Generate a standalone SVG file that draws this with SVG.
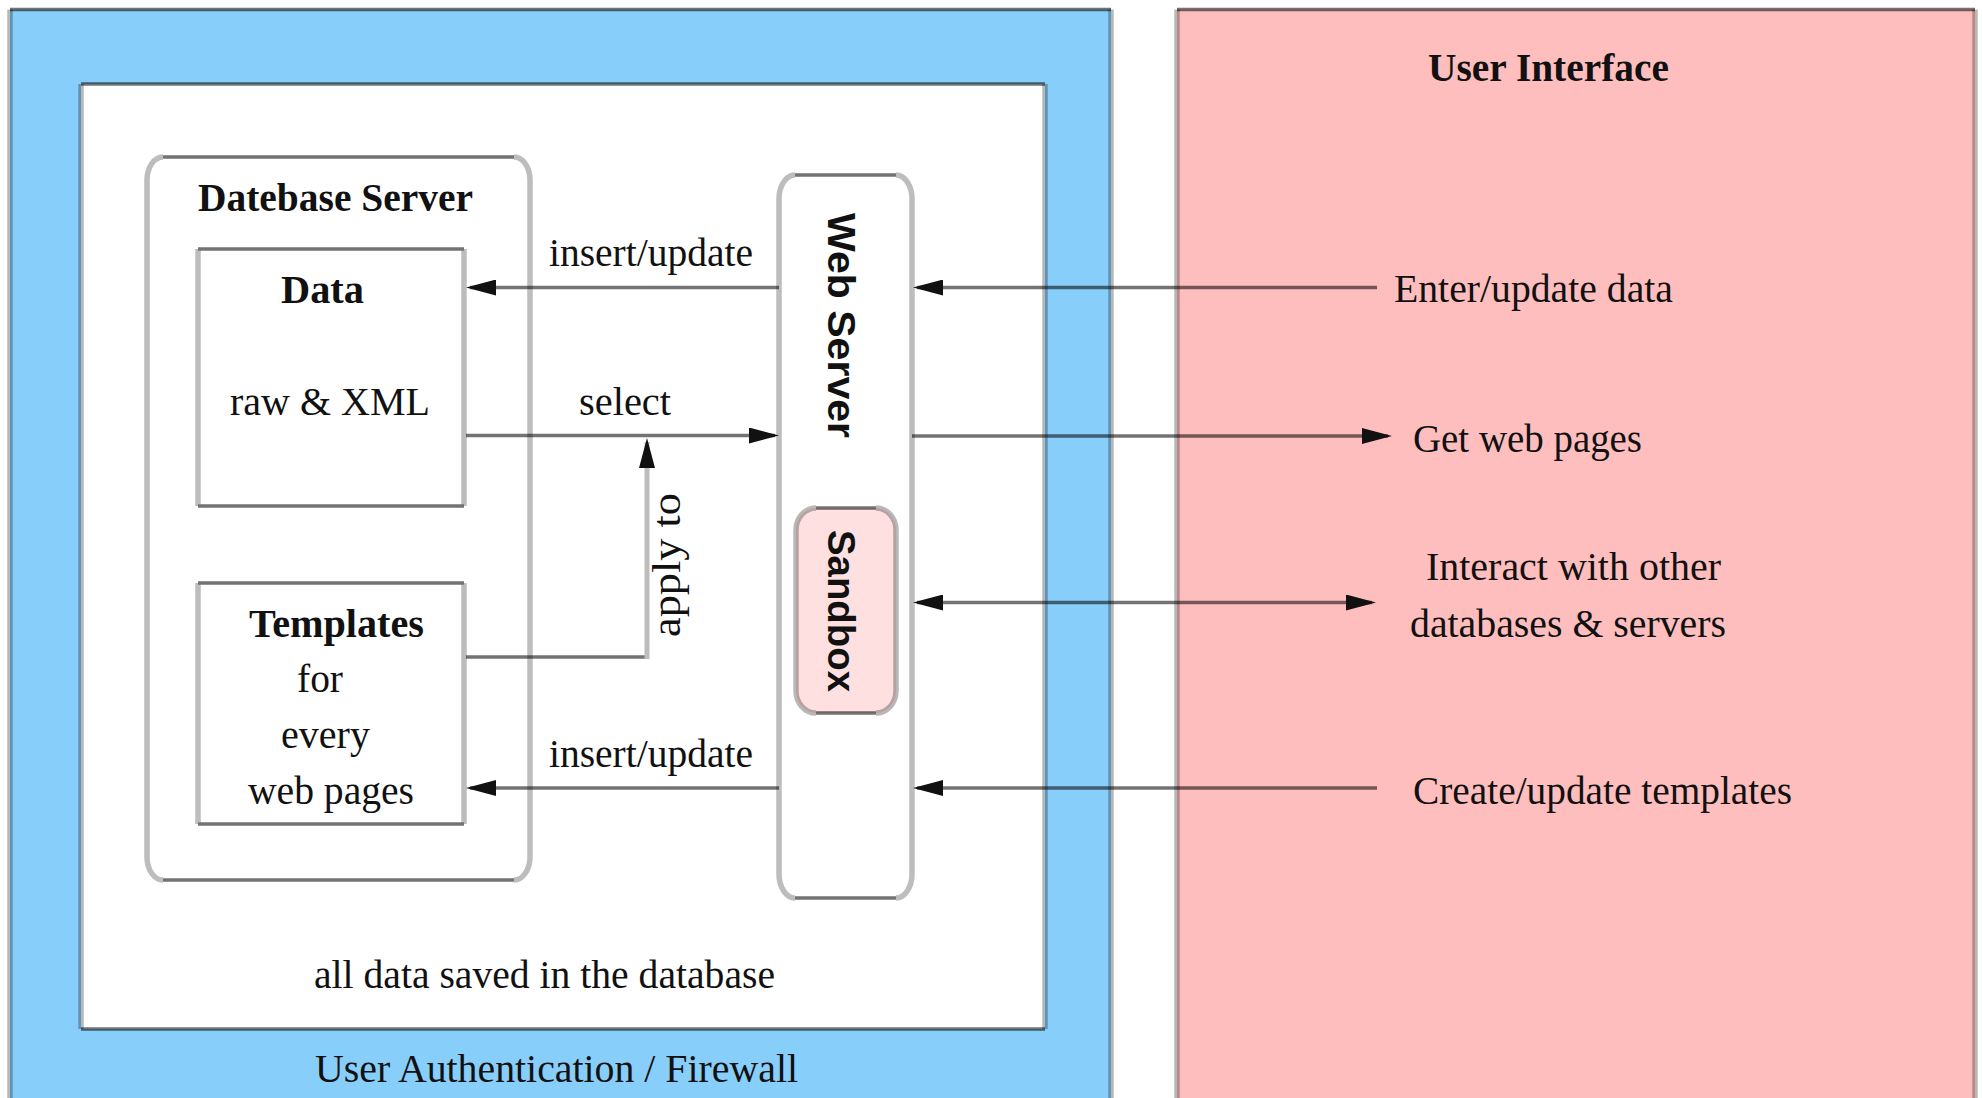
<svg xmlns="http://www.w3.org/2000/svg" width="1982" height="1098" viewBox="0 0 1982 1098">
<style>
  .vt { stroke:#000; stroke-opacity:0.28; stroke-width:5.5; fill:none; }
  .hz { stroke:#000; stroke-opacity:0.55; stroke-width:3.5; fill:none; }
  .nv { stroke:#bdbdbd; stroke-width:5.5; fill:none; }
  .nh { stroke:#737373; stroke-width:3.5; fill:none; }
  .cv { stroke:#bdbdbd; stroke-width:5; fill:none; }
  .ch { stroke:#000; stroke-opacity:0.55; stroke-width:3.5; fill:none; }
  .arr { marker-end:url(#ah); }
  .both { marker-start:url(#ah); marker-end:url(#ah); }
  text { font-family:"Liberation Serif", "Times New Roman", serif; font-size:40px; fill:#111; }
  .b { font-weight:bold; }
  .sans { font-family:"Liberation Sans", Arial, sans-serif; font-weight:bold; font-size:39px; }
</style>
<defs>
  <marker id="ah" viewBox="0 0 30 16" refX="26" refY="8" markerWidth="30" markerHeight="16" markerUnits="userSpaceOnUse" orient="auto-start-reverse">
    <path d="M0,0 L30,8 L0,16 Z" fill="#111"/>
  </marker>
</defs>
<rect width="1982" height="1098" fill="#ffffff"/>

<g id="firewall-zone">
  <rect x="10" y="9.5" width="1101" height="1100" fill="#87cefa"/>
  <path class="vt" d="M10,9.5 V1098 M1111,9.5 V1098"/>
  <path class="hz" d="M10,9.5 H1111"/>
  <text x="315" y="1082" textLength="483" lengthAdjust="spacingAndGlyphs">User Authentication / Firewall</text>
</g>

<g id="server-area">
  <rect x="81" y="84" width="964" height="945" fill="#ffffff"/>
  <path class="vt" d="M81,84 V1029 M1045,84 V1029"/>
  <path class="hz" d="M81,84 H1045 M81,1029 H1045"/>
  <text x="314" y="988" textLength="461" lengthAdjust="spacingAndGlyphs">all data saved in the database</text>
</g>

<g id="user-interface">
  <rect x="1177" y="9.5" width="798" height="1100" fill="#ffbebe"/>
  <path class="vt" d="M1177,9.5 V1098 M1975,9.5 V1098"/>
  <path class="hz" d="M1177,9.5 H1975"/>
  <text class="b" x="1428" y="81" textLength="241" lengthAdjust="spacingAndGlyphs">User Interface</text>
</g>

<g id="database-server">
  <path class="nv" d="M163,157 A16,23 0 0 0 147,180 V857 A16,23 0 0 0 163,880 M514,157 A16,23 0 0 1 530,180 V857 A16,23 0 0 1 514,880"/>
  <path class="nh" d="M163,157 H514 M163,880 H514"/>
  <text class="b" x="198" y="211" textLength="275" lengthAdjust="spacingAndGlyphs">Datebase Server</text>
</g>

<g id="data">
  <path class="nv" d="M198,249 V506 M464,249 V506"/>
  <path class="nh" d="M198,249 H464 M198,506 H464"/>
  <text class="b" x="281" y="303" textLength="83" lengthAdjust="spacingAndGlyphs">Data</text>
  <text x="230" y="415" textLength="200" lengthAdjust="spacingAndGlyphs">raw &amp; XML</text>
</g>

<g id="templates">
  <path class="nv" d="M198,583 V824 M464,583 V824"/>
  <path class="nh" d="M198,583 H464 M198,824 H464"/>
  <text class="b" x="249" y="637" textLength="175" lengthAdjust="spacingAndGlyphs">Templates</text>
  <text x="297" y="692" textLength="46" lengthAdjust="spacingAndGlyphs">for</text>
  <text x="281" y="748" textLength="89" lengthAdjust="spacingAndGlyphs">every</text>
  <text x="248" y="804" textLength="166" lengthAdjust="spacingAndGlyphs">web pages</text>
</g>

<g id="web-server">
  <path class="nv" d="M795,175 A16,24 0 0 0 779,199 V874 A16,24 0 0 0 795,898 M896,175 A16,24 0 0 1 912,199 V874 A16,24 0 0 1 896,898"/>
  <path class="nh" d="M795,175 H896 M795,898 H896"/>
  <text class="sans" x="828" y="325.5" text-anchor="middle" textLength="225" lengthAdjust="spacingAndGlyphs" transform="rotate(90 828 325.5)">Web Server</text>
</g>

<g id="sandbox">
  <rect x="796" y="508" width="100" height="205" rx="20" ry="22" fill="#ffe0e0"/>
  <path class="vt" d="M816,508 A20,22 0 0 0 796,530 V691 A20,22 0 0 0 816,713 M876,508 A20,22 0 0 1 896,530 V691 A20,22 0 0 1 876,713"/>
  <path class="hz" d="M816,508 H876 M816,713 H876"/>
  <text class="sans" x="828" y="611" text-anchor="middle" textLength="162" lengthAdjust="spacingAndGlyphs" transform="rotate(90 828 611)">Sandbox</text>
</g>

<g id="connectors">
  <path class="ch arr" d="M779,287.5 H470"/>
  <path class="ch arr" d="M466,435.5 H775"/>
  <path class="ch" d="M466,657 H649"/>
  <path class="cv arr" d="M647,659 V442"/>
  <path class="ch arr" d="M779,788 H470"/>
  <path class="ch arr" d="M1377,287.5 H917"/>
  <path class="ch arr" d="M912,436 H1388"/>
  <path class="ch both" d="M917,602.5 H1372"/>
  <path class="ch arr" d="M1377,788 H917"/>
  <text x="549" y="266" textLength="204" lengthAdjust="spacingAndGlyphs">insert/update</text>
  <text x="579" y="415" textLength="92" lengthAdjust="spacingAndGlyphs">select</text>
  <text x="680" y="565" text-anchor="middle" textLength="144" lengthAdjust="spacingAndGlyphs" transform="rotate(-90 680 565)">apply to</text>
  <text x="549" y="767" textLength="204" lengthAdjust="spacingAndGlyphs">insert/update</text>
  <text x="1394" y="302" textLength="279" lengthAdjust="spacingAndGlyphs">Enter/update data</text>
  <text x="1413" y="452" textLength="229" lengthAdjust="spacingAndGlyphs">Get web pages</text>
  <text x="1426" y="580" textLength="295" lengthAdjust="spacingAndGlyphs">Interact with other</text>
  <text x="1410" y="637" textLength="316" lengthAdjust="spacingAndGlyphs">databases &amp; servers</text>
  <text x="1413" y="804" textLength="379" lengthAdjust="spacingAndGlyphs">Create/update templates</text>
</g>
</svg>
